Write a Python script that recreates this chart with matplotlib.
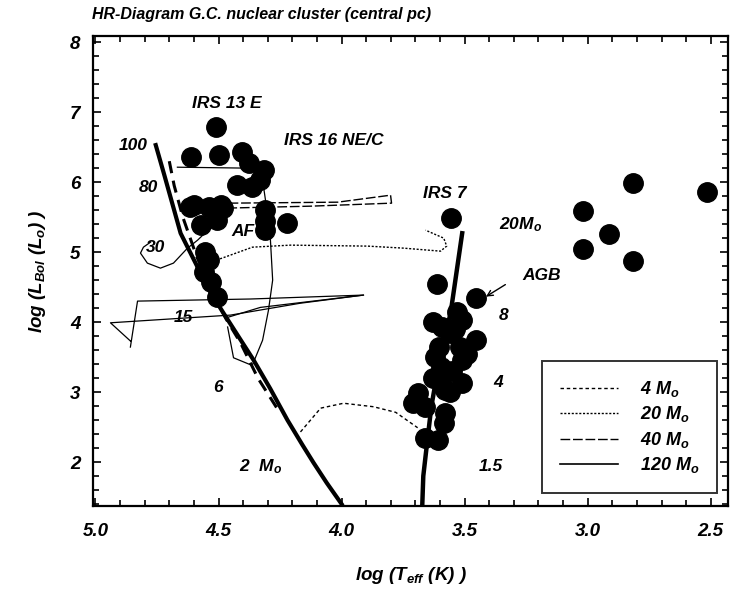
import matplotlib
matplotlib.use('Agg')
import matplotlib.pyplot as plt
from matplotlib.lines import Line2D
from matplotlib.ticker import MultipleLocator

plt.rcParams['font.family'] = ['Liberation Sans', 'DejaVu Sans']
plt.rcParams['font.weight'] = 'bold'
plt.rcParams['font.style'] = 'italic'
plt.rcParams['axes.labelweight'] = 'bold'
plt.rcParams['mathtext.fontset'] = 'custom'
plt.rcParams['mathtext.it'] = 'Liberation Sans:italic:bold'
plt.rcParams['mathtext.rm'] = 'Liberation Sans:italic:bold'
plt.rcParams['mathtext.bf'] = 'Liberation Sans:italic:bold'
plt.rcParams['mathtext.default'] = 'it'

# stars: log Teff, log L
star_t = [4.512, 4.611, 4.499, 4.404, 4.378, 4.317, 4.424, 4.363, 4.33,
          4.614, 4.54, 4.48, 4.31, 4.31, 4.31, 4.22, 4.60, 4.49, 4.57, 4.505,
          4.553, 4.54, 4.56, 4.53, 4.505,
          3.554, 3.611, 3.455, 3.59, 3.51, 3.455, 3.605, 3.52, 3.597, 3.51,
          3.597, 3.51, 3.69, 3.71, 3.66, 3.58, 3.585, 3.66, 3.61,
          3.63, 3.56, 3.62, 3.55, 3.63, 3.56, 3.49, 3.58, 3.53, 3.54,
          3.018, 2.815, 2.913, 3.018, 2.815, 2.517]
star_l = [6.79, 6.36, 6.39, 6.43, 6.27, 6.17, 5.96, 5.93, 6.03,
          5.65, 5.65, 5.63, 5.60, 5.45, 5.31, 5.41, 5.67, 5.67, 5.39, 5.46,
          5.00, 4.89, 4.72, 4.58, 4.36,
          5.49, 4.55, 4.34, 3.93, 4.03, 3.74, 3.65, 3.65, 3.36, 3.46,
          3.17, 3.13, 2.98, 2.84, 2.79, 3.03, 2.56, 2.34, 2.31,
          4.00, 3.85, 3.50, 3.30, 3.20, 3.00, 3.55, 2.70, 4.15, 3.90,
          5.59, 5.99, 5.26, 5.05, 4.87, 5.86]

# zero age main sequence
zams_t = [4.755, 4.72, 4.654, 4.58, 4.53, 4.48, 4.42, 4.358, 4.29, 4.22, 4.16, 4.114, 4.06, 4.0]
zams_l = [6.53, 6.1, 5.27, 4.75, 4.41, 4.13, 3.8, 3.46, 3.05, 2.6, 2.25, 1.99, 1.7, 1.4]

# second main sequence (thick dashed)
ms2_t = [4.70, 4.68, 4.645, 4.59, 4.53, 4.47, 4.41, 4.34, 4.25]
ms2_l = [6.3, 5.95, 5.5, 4.95, 4.45, 4.05, 3.7, 3.2, 2.7]

# red giant branch
rgb_t = [3.672, 3.668, 3.655, 3.635, 3.60, 3.557, 3.51]
rgb_l = [1.40, 1.8, 2.2, 2.8, 3.5, 4.13, 5.27]

# 120 Msun track
m120_t = [4.667, 4.370, 4.321, 4.309, 4.289, 4.280, 4.297, 4.321, 4.362]
m120_l = [6.214, 6.20, 6.03, 5.74, 5.17, 4.60, 4.17, 3.74, 3.39]
m120b_t = [4.463, 4.439, 4.37]
m120b_l = [3.93, 3.49, 3.39]

# 40 Msun track
m40_t = [4.459, 4.016, 3.801, 3.797, 4.126, 4.459]
m40_l = [5.70, 5.714, 5.814, 5.70, 5.657, 5.63]

# 30 Msun track
m30_t = [4.472, 4.585, 4.626, 4.683, 4.736, 4.789, 4.817, 4.805, 4.776]
m30_l = [5.557, 5.171, 5.057, 4.843, 4.771, 4.843, 4.986, 5.071, 5.143]

# 20 Msun track
m20_t = [4.508, 4.362, 4.207, 3.894, 3.748, 3.598, 3.573, 3.585, 3.659]
m20_l = [4.886, 5.071, 5.10, 5.086, 5.057, 5.014, 5.086, 5.20, 5.314]

# 15 Msun track
m15_t = [4.858, 4.829, 4.37, 3.911, 4.167, 4.451, 4.939, 4.858]
m15_l = [3.643, 4.30, 4.33, 4.386, 4.27, 4.10, 3.99, 3.73]
m15b_t = [4.47, 4.33, 3.911]
m15b_l = [4.06, 4.21, 4.386]

# 4 Msun track
m4_t = [4.167, 4.085, 3.992, 3.870, 3.780, 3.691]
m4_l = [2.43, 2.77, 2.84, 2.79, 2.71, 2.49]

labels = ['IRS 13 E', 'IRS 16 NE/C', '100', '80', '30', 'AF', '15', '6',
          '2  $M_o$', 'IRS 7', '20$M_o$', 'AGB', '8', '4', '1.5']
label_t = [4.467, 4.033, 4.846, 4.785, 4.756, 4.40, 4.642, 4.504,
           4.33, 3.581, 3.272, 3.187, 3.341, 3.366, 3.394]
label_l = [7.13, 6.6, 6.53, 5.93, 5.06, 5.29, 4.06, 3.07,
           1.93, 5.84, 5.39, 4.67, 4.1, 3.14, 1.93]

legend_names = ['4 $M_o$', '20 $M_o$', '40 $M_o$', '120 $M_o$']

fig = plt.figure(figsize=(7.35, 5.94), dpi=100)
ax = fig.add_axes([0.1265, 0.148, 0.8640, 0.791])

ax.plot(zams_t, zams_l, color='black', lw=3.0)
ax.plot(ms2_t, ms2_l, color='black', lw=2.2, dashes=(4, 2.5))
ax.plot(rgb_t, rgb_l, color='black', lw=3.2)
ax.plot(m120_t, m120_l, color='black', lw=0.9)
ax.plot(m120b_t, m120b_l, color='black', lw=0.9)
ax.plot(m40_t, m40_l, color='black', lw=1.0, dashes=(7, 2))
ax.plot(m30_t, m30_l, color='black', lw=0.9)
ax.plot(m20_t, m20_l, color='black', lw=1.0, dashes=(1.5, 1.2))
ax.plot(m15_t, m15_l, color='black', lw=0.9)
ax.plot(m15b_t, m15b_l, color='black', lw=0.9)
ax.plot(m4_t, m4_l, color='black', lw=1.0, dashes=(2.5, 2))

ax.plot(star_t, star_l, 'o', color='black', ms=14, zorder=3)

for s, t, l in zip(labels, label_t, label_l):
    ax.text(t, l, s, fontsize=12.5, ha='center', va='center', zorder=4)

ax.annotate('', xy=(3.423, 4.343), xytext=(3.325, 4.557),
            arrowprops=dict(arrowstyle='->', color='black', lw=1.0))

ax.set_xlim(5.01, 2.43)
ax.set_ylim(1.37, 8.086)
ax.xaxis.set_minor_locator(MultipleLocator(0.1))
ax.yaxis.set_minor_locator(MultipleLocator(0.2))
ax.set_yticks([2, 3, 4, 5, 6, 7, 8])
ax.set_xticks([5.0, 4.5, 4.0, 3.5, 3.0, 2.5])
ax.set_xticklabels(['5.0', '4.5', '4.0', '3.5', '3.0', '2.5'])
ax.tick_params(which='both', direction='in', top=True, right=True, width=1.2, labelsize=13.5)
ax.tick_params(which='major', length=6)
ax.tick_params(which='minor', length=4)
ax.tick_params(axis='x', pad=12)
ax.tick_params(axis='y', pad=9)
for sp in ax.spines.values():
    sp.set_linewidth(1.6)

ax.set_xlabel('log (T$_{eff}$ (K) )', fontsize=13.5, fontweight='bold', labelpad=18)
ax.set_ylabel('log (L$_{Bol}$ (L$_o$) )', fontsize=13.5, fontweight='bold', labelpad=16)

handles = [Line2D([], [], color='black', lw=1.0, dashes=(2.5, 2)),
           Line2D([], [], color='black', lw=1.0, dashes=(1.5, 1.2)),
           Line2D([], [], color='black', lw=1.0, dashes=(7, 2)),
           Line2D([], [], color='black', lw=1.2)]
leg = ax.legend(handles, legend_names, loc='lower right', bbox_to_anchor=(0.997, 0.008),
                fontsize=13, frameon=True, fancybox=False, handlelength=3.2,
                borderpad=1.0, labelspacing=0.3, handletextpad=1.2)
leg.get_frame().set_edgecolor('black')
leg.get_frame().set_linewidth(1.4)

fig.text(0.125, 0.975, 'HR-Diagram G.C. nuclear cluster (central pc)', fontsize=11.5,
         ha='left', va='center')

plt.savefig('out.png', dpi=100)
